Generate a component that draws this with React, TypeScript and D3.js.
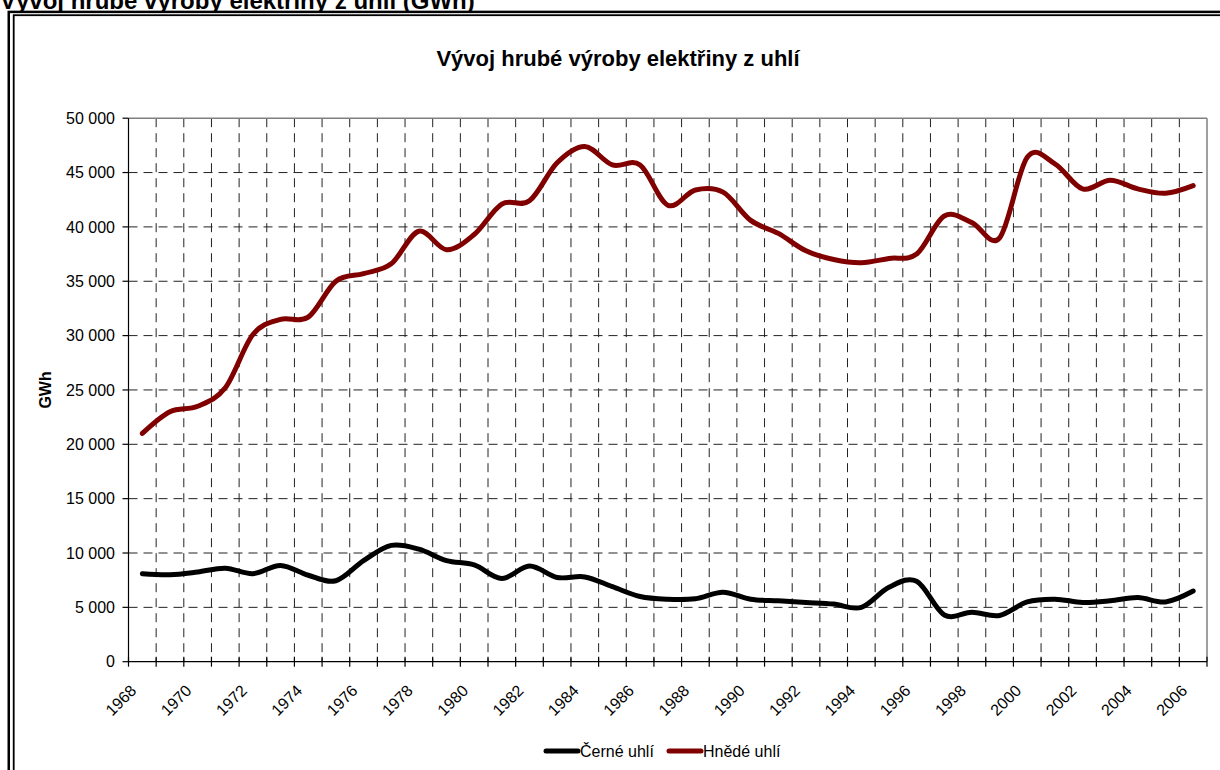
import * as d3 from 'd3';

const YEARS = [
  1968, 1969, 1970, 1971, 1972, 1973, 1974, 1975, 1976, 1977,
  1978, 1979, 1980, 1981, 1982, 1983, 1984, 1985, 1986, 1987,
  1988, 1989, 1990, 1991, 1992, 1993, 1994, 1995, 1996, 1997,
  1998, 1999, 2000, 2001, 2002, 2003, 2004, 2005, 2006,
];

// Černé uhlí (GWh)
const CERNE = [
  8100, 8000, 8250, 8600, 8100, 8850, 7950, 7450, 9300, 10700,
  10350, 9300, 8900, 7650, 8800, 7750, 7800, 6900, 6000, 5750,
  5800, 6400, 5750, 5600, 5450, 5300, 5000, 6850, 7400, 4300,
  4550, 4250, 5500, 5750, 5450, 5600, 5900, 5500, 6500,
];

// Hnědé uhlí (GWh)
const HNEDE = [
  21000, 23000, 23500, 25200, 30100, 31500, 31700, 35000, 35700, 36600,
  39600, 37900, 39300, 42100, 42400, 45900, 47400, 45700, 45700, 42000,
  43400, 43200, 40600, 39400, 37800, 37000, 36700, 37100, 37500, 41000,
  40400, 39000, 46400, 45800, 43500, 44300, 43500, 43100, 43800,
];

const Y_TICKS = [0, 5000, 10000, 15000, 20000, 25000, 30000, 35000, 40000, 45000, 50000];

const SERIES = [
  { name: 'Černé uhlí', values: CERNE, color: '#000000' },
  { name: 'Hnědé uhlí', values: HNEDE, color: '#800000' },
];

const FONT = 'Arial, "Liberation Sans", sans-serif';
const W = 1220;
const H = 770;
const PLOT = { left: 128.5, right: 1207, top: 118.2, bottom: 661.7 };

const fmt = d3.formatLocale({ decimal: ',', thousands: ' ', grouping: [3], currency: ['', ''] }).format(',');

export default function App() {
  const x = d3.scaleBand<number>().domain(YEARS).range([PLOT.left, PLOT.right]).paddingInner(0).paddingOuter(0);
  const y = d3.scaleLinear().domain([0, 50000]).range([PLOT.bottom, PLOT.top]);
  const cx = (yr: number) => (x(yr) ?? 0) + x.bandwidth() / 2;

  // Excel-style smoothed line
  const line = d3.line<number>()
    .x((_, i) => cx(YEARS[i]))
    .y((v) => y(v))
    .curve(d3.curveCardinal.tension(0));

  const boundaries = YEARS.map((yr) => x(yr) ?? 0).concat([PLOT.right]);

  const legendY = 751;
  const legendItems = [
    { ...SERIES[0], x0: 546 },
    { ...SERIES[1], x0: 669 },
  ];

  return (
    <div style={{ position: 'absolute', left: 0, top: 0 }}>
      <svg width={W} height={H} style={{ display: 'block', background: '#fff' }} fontFamily={FONT}>
        {/* page heading, cut by the top edge */}
        <text x={0} y={9} fontSize={24} fontWeight="bold" fill="#000">
          Vývoj hrubé výroby elektřiny z uhlí (GWh)
        </text>

        {/* double frame */}
        <rect x={8.75} y={11.9} width={1300} height={900} fill="#fff" stroke="#000" strokeWidth={2.5} />
        <rect x={13.7} y={15.2} width={1300} height={900} fill="none" stroke="#000" strokeWidth={1.8} />

        {/* chart title */}
        <text x={618} y={66} textAnchor="middle" fontSize={22} fontWeight="bold">
          Vývoj hrubé výroby elektřiny z uhlí
        </text>

        {/* horizontal grid */}
        {Y_TICKS.filter((t) => t > 0 && t < 50000).map((t) => (
          <line key={`hg${t}`} x1={PLOT.left} x2={PLOT.right} y1={y(t)} y2={y(t)}
            stroke="#222" strokeWidth={1} strokeDasharray="9,6" />
        ))}
        {/* vertical grid */}
        {boundaries.slice(1, -1).map((bx, i) => (
          <line key={`vg${i}`} x1={bx} x2={bx} y1={PLOT.top} y2={PLOT.bottom}
            stroke="#222" strokeWidth={1} strokeDasharray="9,6" />
        ))}

        {/* plot border top/right */}
        <line x1={PLOT.left} x2={PLOT.right} y1={PLOT.top} y2={PLOT.top} stroke="#808080" strokeWidth={1.5} />
        <line x1={PLOT.right} x2={PLOT.right} y1={PLOT.top} y2={PLOT.bottom} stroke="#808080" strokeWidth={1.5} />

        {/* y axis */}
        <line x1={PLOT.left} x2={PLOT.left} y1={PLOT.top} y2={PLOT.bottom} stroke="#000" strokeWidth={1.2} />
        {Y_TICKS.map((t) => (
          <g key={`yt${t}`}>
            <line x1={PLOT.left - 6} x2={PLOT.left} y1={y(t)} y2={y(t)} stroke="#000" strokeWidth={1.2} />
            <text x={115} y={y(t)} dy="0.36em" textAnchor="end" fontSize={16}>{fmt(t)}</text>
          </g>
        ))}
        <text transform={`translate(51,${(PLOT.top + PLOT.bottom) / 2}) rotate(-90)`} textAnchor="middle"
          fontSize={16} fontWeight="bold">GWh</text>

        {/* x axis */}
        <line x1={PLOT.left} x2={PLOT.right} y1={PLOT.bottom} y2={PLOT.bottom} stroke="#000" strokeWidth={1.2} />
        {boundaries.map((bx, i) => (
          <line key={`xt${i}`} x1={bx} x2={bx} y1={PLOT.bottom - 5} y2={PLOT.bottom + 5} stroke="#000" strokeWidth={1.2} />
        ))}
        {YEARS.filter((_, i) => i % 2 === 0).map((yr) => (
          <text key={`xl${yr}`} transform={`translate(${cx(yr) - 5},${PLOT.bottom + 30}) rotate(-45)`}
            textAnchor="end" fontSize={16}>{yr}</text>
        ))}

        {/* series */}
        {SERIES.map((s) => (
          <path key={s.name} d={line(s.values) ?? ''} fill="none" stroke={s.color} strokeWidth={5}
            strokeLinejoin="round" strokeLinecap="round" />
        ))}

        {/* legend */}
        {legendItems.map((s) => (
          <g key={`lg${s.name}`}>
            <line x1={s.x0} x2={s.x0 + 32} y1={legendY} y2={legendY} stroke={s.color} strokeWidth={5} strokeLinecap="round" />
            <text x={s.x0 + 34} y={legendY} dy="0.36em" fontSize={16}>{s.name}</text>
          </g>
        ))}
      </svg>
    </div>
  );
}
